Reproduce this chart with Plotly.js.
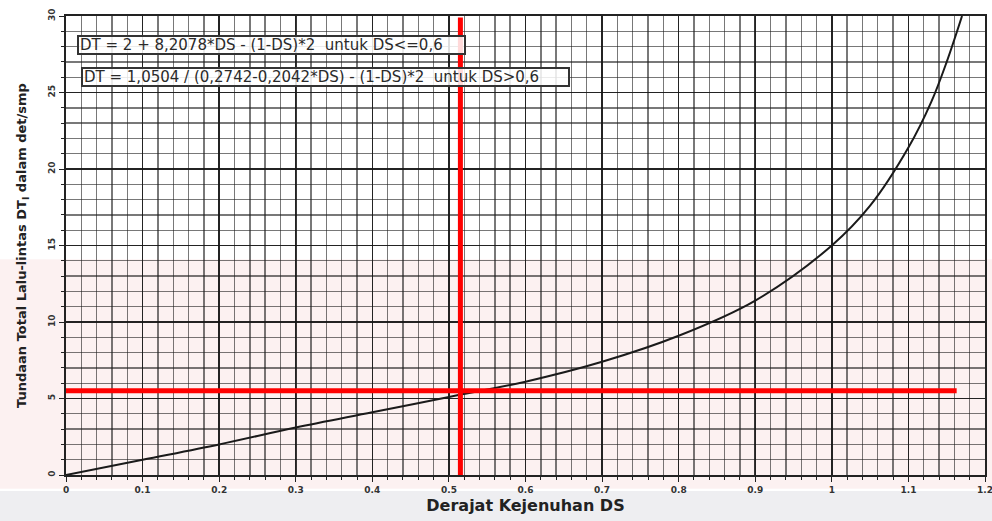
<!DOCTYPE html>
<html>
<head>
<meta charset="utf-8">
<script src="https://cdn.plot.ly/plotly-3.0.1.min.js"></script>
<style>html,body{margin:0;padding:0;background:#ffffff;}#chart{width:992px;height:521px;}</style>
</head>
<body>
<div id="chart"></div>
<script>
// Curve
const DS = [0, 0.1, 0.2, 0.3, 0.4, 0.5, 0.6, 0.7, 0.8, 0.9, 1.0, 1.05, 1.1, 1.13, 1.15, 1.17];
const DT = [0, 1.0, 2.0, 3.1, 4.1, 5.1, 6.1, 7.4, 9.1, 11.4, 15.0, 17.6, 21.4, 24.4, 27.0, 30.0];

// Red reading lines
const readDS = 0.515;
const readDT = 5.5;
const readDSmax = 1.163;
const readDTmax = 29.9;

// Tick labels
const xTicks = [0, 0.1, 0.2, 0.3, 0.4, 0.5, 0.6, 0.7, 0.8, 0.9, 1, 1.1, 1.2];
const xTickText = ["0", "0.1", "0.2", "0.3", "0.4", "0.5", "0.6", "0.7", "0.8", "0.9", "1", "1.1", "1.2"];
const yTicks = [0, 5, 10, 15, 20, 25, 30];
const yTickText = ["0", "5", "10", "15", "20", "25", "30"];

// Equation labels
const eqTexts = [
  "DT = 2 + 8,2078*DS - (1-DS)*2  untuk DS<=0,6",
  "DT = 1,0504 / (0,2742-0,2042*DS) - (1-DS)*2  untuk DS>0,6"
];
const eqPosDS = [0.015, 0.019];
const eqPosDT = [28.1, 26.0];
const eqWidths = [383, 483];

const xTitle = "Derajat Kejenuhan DS";
const yTitle = "Tundaan Total Lalu-lintas DT<sub>I</sub> dalam det/smp";

const trace = {
  x: DS, y: DT, mode: 'lines', type: 'scatter',
  line: {color: '#1a1a1a', width: 2, shape: 'spline', smoothing: 1},
  hoverinfo: 'skip', showlegend: false
};

const gridMinor = 'rgba(30,30,30,0.6)';
const gridMajor = 'rgba(20,20,20,0.85)';

const annotations = eqTexts.map((t, i) => ({
  text: t, x: eqPosDS[i], y: eqPosDT[i], xref: 'x', yref: 'y',
  xanchor: 'left', yanchor: 'middle', showarrow: false, align: 'left',
  width: eqWidths[i], height: 14,
  font: {family: 'DejaVu Sans, sans-serif', size: 15, color: '#2a2a2a'},
  bgcolor: 'rgba(255,255,255,0.85)', bordercolor: '#333333', borderwidth: 2, borderpad: 1
}));

const shapes = [
  // faint background tints (watermark)
  {type: 'rect', xref: 'paper', yref: 'paper', x0: -0.08, x1: 1.01, y0: -0.03, y1: 0.47,
   fillcolor: 'rgba(245,215,215,0.35)', line: {width: 0}, layer: 'below'},
  {type: 'rect', xref: 'paper', yref: 'paper', x0: -0.08, x1: 1.01, y0: -0.13, y1: -0.035,
   fillcolor: 'rgba(236,236,240,0.9)', line: {width: 0}, layer: 'below'},
  // red reading lines
  {type: 'line', xref: 'x', yref: 'y', x0: readDS, x1: readDS, y0: 0, y1: readDTmax,
   line: {color: '#ff0000', width: 5}},
  {type: 'line', xref: 'x', yref: 'y', x0: 0, x1: readDSmax, y0: readDT, y1: readDT,
   line: {color: '#ff0000', width: 5}}
];

const tickFont = {family: 'DejaVu Sans, sans-serif', size: 9, color: '#333', weight: 'bold'};

const layout = {
  width: 992, height: 521,
  margin: {l: 66, r: 7, t: 16, b: 46},
  paper_bgcolor: '#ffffff',
  plot_bgcolor: 'rgba(255,255,255,0)',
  showlegend: false,
  xaxis: {
    range: [0, 1.2], tickvals: xTicks, ticktext: xTickText,
    ticklabeloverflow: 'allow',
    showgrid: true, gridcolor: gridMajor, gridwidth: 1.6,
    minor: {dtick: 0.02, showgrid: true, gridcolor: gridMinor, gridwidth: 1.4, ticks: 'outside', ticklen: 3, tickcolor: '#222'},
    ticks: 'outside', ticklen: 5, tickcolor: '#222',
    showline: true, linecolor: '#222', linewidth: 2, mirror: true,
    zeroline: false,
    tickfont: tickFont,
    title: {text: xTitle, standoff: 6, font: {family: 'DejaVu Sans, sans-serif', size: 16, color: '#222', weight: 'bold'}}
  },
  yaxis: {
    range: [0, 30], tickvals: yTicks, ticktext: yTickText, tickangle: -90,
    showgrid: true, gridcolor: gridMajor, gridwidth: 1.6,
    minor: {dtick: 1, showgrid: true, gridcolor: gridMinor, gridwidth: 1.4, ticks: 'outside', ticklen: 3, tickcolor: '#222'},
    ticks: 'outside', ticklen: 5, tickcolor: '#222',
    showline: true, linecolor: '#222', linewidth: 2, mirror: true,
    zeroline: false,
    tickfont: tickFont,
    title: {text: yTitle, standoff: 18, font: {family: 'DejaVu Sans, sans-serif', size: 13, color: '#222', weight: 'bold'}}
  },
  annotations: annotations,
  shapes: shapes
};

Plotly.newPlot('chart', [trace], layout, {displayModeBar: false, staticPlot: true});
</script>
</body>
</html>
